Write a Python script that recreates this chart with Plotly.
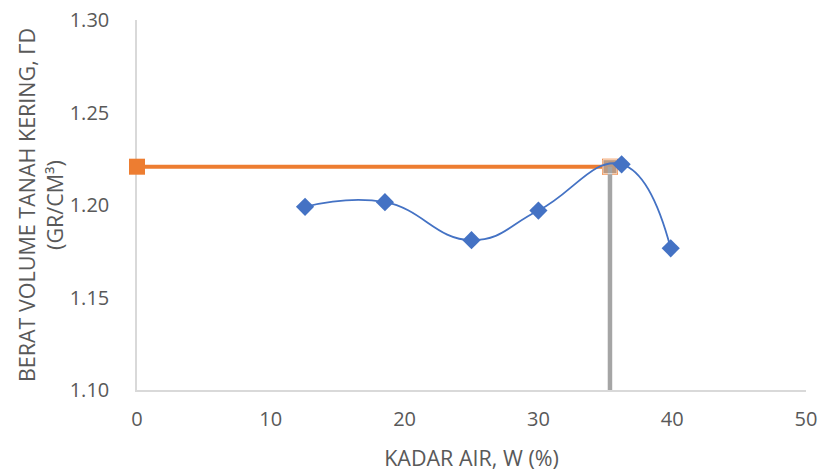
import plotly.graph_objects as go

# Moisture content (%) and dry unit weight (gr/cm3) from the compaction test
kadar_air = [12.56, 18.53, 25.0, 30.0, 36.22, 39.89]
berat_kering = [1.199, 1.2015, 1.181, 1.197, 1.222, 1.1766]

# Optimum moisture content and maximum dry unit weight guide lines
w_opt = 35.35
gd_max = 1.2207
y_min = 1.10

x_ticks = [0, 10, 20, 30, 40, 50]
y_ticks = [1.10, 1.15, 1.20, 1.25, 1.30]

grey_txt = "#595959"
font_family = "Open Sans, sans-serif"

fig = go.Figure()

# horizontal line: maximum dry unit weight
fig.add_trace(go.Scatter(
    x=[0, w_opt], y=[gd_max, gd_max],
    mode="lines+markers",
    line=dict(color="#ed7d31", width=4),
    marker=dict(symbol="square", size=16, color="#ed7d31"),
    cliponaxis=False, showlegend=False,
))

# vertical line: optimum moisture content
fig.add_trace(go.Scatter(
    x=[w_opt, w_opt], y=[gd_max, y_min],
    mode="lines+markers",
    line=dict(color="#a5a5a5", width=4.5),
    marker=dict(symbol="square", size=[14, 0], color="#a5a5a5"),
    cliponaxis=False, showlegend=False,
))

# compaction curve
fig.add_trace(go.Scatter(
    x=kadar_air, y=berat_kering,
    mode="lines+markers",
    line=dict(color="#4472c4", width=1.8, shape="spline", smoothing=1.3),
    marker=dict(symbol="diamond", size=14, color="#4472c4"),
    cliponaxis=False, showlegend=False,
))

fig.update_layout(
    width=820, height=474,
    margin=dict(l=137, r=14, t=20, b=84),
    paper_bgcolor="white", plot_bgcolor="white",
    font=dict(family=font_family, color=grey_txt, size=20),
    xaxis=dict(
        range=[0, 50], tickvals=x_ticks, ticktext=[str(v) for v in x_ticks],
        showgrid=False, zeroline=False, automargin=False,
        showline=True, linecolor="#d9d9d9", linewidth=1.5, layer="below traces",
        ticks="", ticklabelstandoff=10,
        tickfont=dict(size=20, color=grey_txt),
        title=dict(text="KADAR AIR, W (%)", font=dict(size=21.5, color=grey_txt), standoff=20),
    ),
    yaxis=dict(
        range=[1.10, 1.30], tickvals=y_ticks, ticktext=[f"{v:.2f}" for v in y_ticks],
        showgrid=False, zeroline=False, automargin=False,
        showline=True, linecolor="#d9d9d9", linewidth=1.5, layer="below traces",
        ticks="", ticklabelstandoff=22,
        tickfont=dict(size=20, color=grey_txt),
        title=dict(text="BERAT VOLUME TANAH KERING, ΓD<br>(GR/CM³)",
                   font=dict(size=21.5, color=grey_txt), standoff=0),
    ),
)

fig.write_html("out.html")
